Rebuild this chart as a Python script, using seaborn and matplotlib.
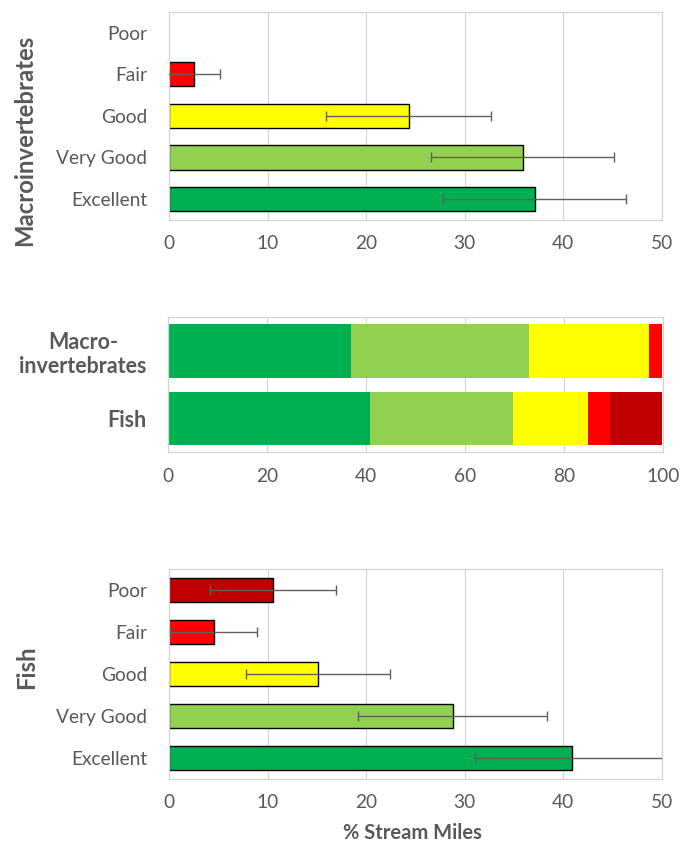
import numpy as np
import pandas as pd
import matplotlib
matplotlib.use("Agg")
import matplotlib.pyplot as plt
import seaborn as sns

# Condition classes, top to bottom in the single-indicator panels
classes = ["Poor", "Fair", "Good", "Very Good", "Excellent"]
class_colors = ["#C00000", "#FF0000", "#FFFF00", "#92D050", "#00B050"]

# % of stream miles in each class, with error margins
macro_pct = [0.0, 2.5, 24.3, 35.9, 37.1]
macro_err = [0.0, 2.6, 8.4, 9.3, 9.3]
fish_pct = [10.5, 4.5, 15.1, 28.8, 40.9]
fish_err = [6.4, 4.4, 7.3, 9.6, 9.9]

groups = ["Macro-\ninvertebrates", "Fish"]

TEXT = "#595959"
GRID = "#d4d4d4"
TICK_SIZE = 13.8

sns.set_theme(style="white")
plt.rcParams["font.family"] = ["Lato", "DejaVu Sans"]

fig = plt.figure(figsize=(6.88, 8.46), dpi=100)
ax_top = fig.add_axes([0.2461, 0.7400, 0.7157, 0.2462])
ax_mid = fig.add_axes([0.2438, 0.4654, 0.7195, 0.1596])
ax_bot = fig.add_axes([0.2461, 0.0796, 0.7157, 0.2475])


def style_axes(ax, xmax, step):
    ax.set_xlim(0, xmax)
    ax.set_xticks(np.arange(0, xmax + 1, step))
    ax.grid(axis="x", color=GRID, linewidth=0.8, zorder=0)
    ax.grid(axis="y", visible=False)
    ax.set_axisbelow(True)
    for sp in ax.spines.values():
        sp.set_visible(True)
        sp.set_color(GRID)
        sp.set_linewidth(0.9)
    ax.tick_params(axis="both", length=0, labelcolor=TEXT,
                   labelsize=TICK_SIZE)
    ax.tick_params(axis="x", pad=11)
    ax.tick_params(axis="y", pad=16)
    ax.set_xlabel("")
    ax.set_ylabel("")


def condition_panel(ax, pct, err):
    df = pd.DataFrame({"cls": classes, "pct": pct})
    sns.barplot(data=df, x="pct", y="cls", hue="cls", order=classes,
                hue_order=classes, palette=class_colors, orient="h",
                width=0.58, edgecolor="black", linewidth=1.0,
                saturation=1, legend=False, ax=ax, zorder=2)
    for p in ax.patches:
        if p.get_width() == 0:
            p.set_linewidth(0)
    for i, (v, e) in enumerate(zip(pct, err)):
        if e > 0:
            ax.errorbar(v, i, xerr=e, fmt="none", ecolor="#606060",
                        elinewidth=1.0, capsize=3.5, capthick=1.0, zorder=3)
    style_axes(ax, 50, 10)
    ax.set_ylim(4.5, -0.5)


condition_panel(ax_top, macro_pct, macro_err)
condition_panel(ax_bot, fish_pct, fish_err)

# Stacked overview: cumulative extents drawn from widest to narrowest
order_lr = classes[::-1]  # Excellent first, at the left
cum = {}
for g, vals in zip(groups, [macro_pct, fish_pct]):
    v = dict(zip(classes, vals))
    running = 0.0
    for c in order_lr:
        running += v[c]
        cum[(g, c)] = running

for c, col in zip(classes, class_colors):
    df = pd.DataFrame({"group": groups, "end": [cum[(g, c)] for g in groups]})
    sns.barplot(data=df, x="end", y="group", order=groups, orient="h",
                color=col, width=0.79, linewidth=0, saturation=1,
                ax=ax_mid, zorder=2)
style_axes(ax_mid, 100, 20)
ax_mid.set_ylim(1.5, -0.5)
ax_mid.set_yticks([0, 1])
ax_mid.set_yticklabels(groups, fontsize=15.5, fontweight="bold",
                       multialignment="center", color=TEXT)
ax_mid.tick_params(axis="y", pad=15)

fig.text(0.036, 0.8345, "Macroinvertebrates", rotation=90, ha="center",
         va="center", fontsize=17.2, fontweight="bold", color=TEXT)
fig.text(0.038, 0.211, "Fish", rotation=90, ha="center", va="center",
         fontsize=17.2, fontweight="bold", color=TEXT)
fig.text(0.5988, 0.004, "% Stream Miles", ha="center", va="bottom",
         fontsize=14.5, fontweight="bold", color=TEXT)

fig.savefig("out.png", dpi=100)
